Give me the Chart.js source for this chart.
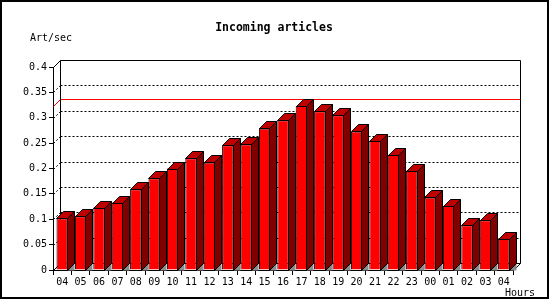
<!DOCTYPE html>
<html lang="en">
<head>
  <meta charset="UTF-8" />
  <title>Incoming articles</title>
  <script src="https://cdn.jsdelivr.net/npm/chart.js"></script>
  <style>
    html, body { margin: 0; padding: 0; background: #fff; }
    #wrap { width: 550px; height: 300px; }
  </style>
</head>
<body>
  <div id="wrap"><canvas id="grafico" width="550" height="300"></canvas></div>

  <script>
    // Data
    const horas = ["04","05","06","07","08","09","10","11","12","13","14","15","16",
                   "17","18","19","20","21","22","23","00","01","02","03","04"];
    const articulosPorSeg = [0.102, 0.106, 0.123, 0.133, 0.159, 0.181, 0.200, 0.220, 0.212,
                             0.246, 0.248, 0.279, 0.295, 0.323, 0.313, 0.305, 0.273, 0.254,
                             0.227, 0.196, 0.143, 0.126, 0.088, 0.098, 0.061];
    const etiquetasY = ["0","0.05","0.1","0.15","0.2","0.25","0.3","0.35","0.4"];

    const PROF = 7; // 3D depth in px
    const fuente = "'DejaVu Sans Mono', monospace";

    function px(v) { return Math.round(v) + 0.5; }

    // back wall, dotted grid, max line, frame and texts
    const fondo3d = {
      id: "fondo3d",
      beforeDatasetsDraw(chart) {
        const { ctx, chartArea: a, scales: { y } } = chart;
        const d = PROF;
        ctx.save();
        ctx.lineWidth = 1;
        ctx.strokeStyle = "#000";

        // dotted grid on the back wall + side diagonals
        ctx.setLineDash([2, 2]);
        for (let i = 1; i < etiquetasY.length - 1; i++) {
          const yy = px(y.getPixelForValue(parseFloat(etiquetasY[i])));
          ctx.beginPath();
          ctx.moveTo(px(a.left + d), yy - d);
          ctx.lineTo(px(a.right + d), yy - d);
          ctx.moveTo(px(a.left), yy);
          ctx.lineTo(px(a.left + d), yy - d);
          ctx.stroke();
        }
        ctx.setLineDash([]);

        // max line
        const maxV = Math.max(...articulosPorSeg);
        const ym = px(y.getPixelForValue(maxV));
        ctx.strokeStyle = "#ff0000";
        ctx.beginPath();
        ctx.moveTo(px(a.left), ym);
        ctx.lineTo(px(a.left + d), ym - d);
        ctx.lineTo(px(a.right + d), ym - d);
        ctx.stroke();

        // back wall frame
        ctx.strokeStyle = "#000";
        ctx.beginPath();
        ctx.moveTo(px(a.left), px(a.top));
        ctx.lineTo(px(a.left + d), px(a.top - d));
        ctx.lineTo(px(a.right + d), px(a.top - d));
        ctx.lineTo(px(a.right + d), px(a.bottom - d));
        ctx.lineTo(px(a.right), px(a.bottom));
        ctx.moveTo(px(a.left + d), px(a.top - d));
        ctx.lineTo(px(a.left + d), px(a.bottom - d));
        ctx.lineTo(px(a.right + d), px(a.bottom - d));
        ctx.moveTo(px(a.left), px(a.bottom));
        ctx.lineTo(px(a.left + d), px(a.bottom - d));
        ctx.stroke();

        ctx.restore();
      },
      afterDatasetsDraw(chart) {
        const { ctx } = chart;
        const d = PROF;
        ctx.save();
        ctx.lineWidth = 1;
        ctx.strokeStyle = "#000";
        chart.getDatasetMeta(0).data.forEach(b => {
          const l = px(b.x - b.width / 2), r = px(b.x + b.width / 2) - 1;
          const t = px(b.y), bo = px(b.base);
          // floor shadow
          ctx.fillStyle = "#8c8c8c";
          ctx.beginPath();
          ctx.moveTo(r, bo); ctx.lineTo(r + d, bo - d); ctx.lineTo(r + d, bo); ctx.closePath();
          ctx.fill();
          // top face
          ctx.fillStyle = "#c00000";
          ctx.beginPath();
          ctx.moveTo(l, t); ctx.lineTo(l + d, t - d); ctx.lineTo(r + d, t - d); ctx.lineTo(r, t); ctx.closePath();
          ctx.fill(); ctx.stroke();
          // side face
          ctx.fillStyle = "#800000";
          ctx.beginPath();
          ctx.moveTo(r, t); ctx.lineTo(r + d, t - d); ctx.lineTo(r + d, bo - d); ctx.lineTo(r, bo); ctx.closePath();
          ctx.fill(); ctx.stroke();
        });
        ctx.restore();
      },
      afterDraw(chart) {
        const { ctx } = chart;
        ctx.save();
        ctx.fillStyle = "#000";
        ctx.textBaseline = "alphabetic";
        ctx.font = "bold 11.5px " + fuente;
        ctx.textAlign = "center";
        ctx.fillText("Incoming articles", 274, 31);
        ctx.font = "10px " + fuente;
        ctx.textAlign = "left";
        ctx.fillText("Art/sec", 30, 41);
        ctx.fillText("Hours", 505, 296);
        // outer frame
        ctx.lineWidth = 2;
        ctx.strokeStyle = "#000";
        ctx.strokeRect(1, 1, 547, 297);
        ctx.restore();
      }
    };

    new Chart(document.getElementById("grafico"), {
      type: "bar",
      data: {
        labels: horas,
        datasets: [{
          label: "Art/sec",
          data: articulosPorSeg,
          backgroundColor: "#ff0000",
          borderColor: "#000",
          borderWidth: 1,
          barPercentage: 0.62,
          categoryPercentage: 1
        }]
      },
      options: {
        responsive: false,
        animation: false,
        devicePixelRatio: 1,
        layout: { padding: { top: 67, right: 37, left: 0, bottom: 0 } },
        plugins: { legend: { display: false }, tooltip: { enabled: false } },
        scales: {
          x: {
            afterFit: s => { s.height = 30; },
            grid: { offset: true, drawOnChartArea: false, tickLength: 5, color: "#000" },
            border: { display: true, color: "#000" },
            ticks: { font: { family: fuente, size: 10 }, color: "#000", padding: 1, maxRotation: 0, autoSkip: false }
          },
          y: {
            min: 0,
            max: 0.4,
            afterFit: s => { s.width = 53; },
            grid: { drawOnChartArea: false, tickLength: 4, color: "#000" },
            border: { display: true, color: "#000" },
            ticks: {
              stepSize: 0.05,
              font: { family: fuente, size: 10 },
              color: "#000",
              padding: 2,
              callback: (v, i) => etiquetasY[i]
            }
          }
        }
      },
      plugins: [fondo3d]
    });
  </script>
</body>
</html>
